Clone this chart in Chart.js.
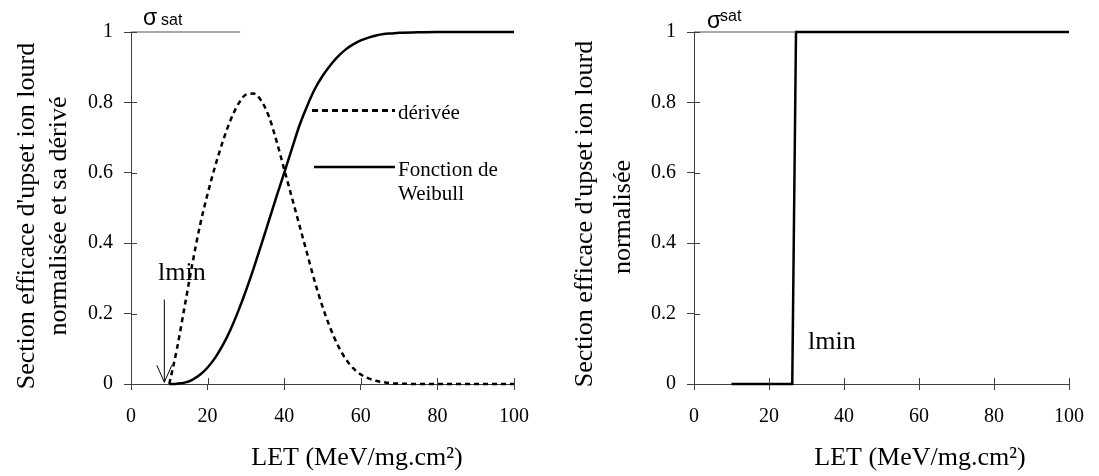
<!DOCTYPE html>
<html>
<head>
<meta charset="utf-8">
<script src="https://cdn.jsdelivr.net/npm/chart.js@4.4.1/dist/chart.umd.min.js"></script>
<style>
  html, body { margin: 0; padding: 0; background: #fff; }
  #wrap  { position: relative; width: 1099px; height: 476px; }
  #left  { position: absolute; left: 0;     top: 0; }
  #right { position: absolute; left: 550px; top: 0; }
</style>
</head>
<body>
<div id="wrap">
  <canvas id="left"  width="550" height="476"></canvas>
  <canvas id="right" width="549" height="476"></canvas>
</div>
<script>
// ── Data ──────────────────────────────────────────────────────────
const letValues   = [10, 12, 14, 16, 18, 20, 22, 24, 26, 28, 30, 32, 34, 36, 38, 40,
                     42, 44, 46, 48, 50, 52, 54, 56, 58, 60, 62, 64, 66, 68, 70, 75, 80, 100];
const weibull     = [0, 0.001, 0.004, 0.012, 0.026, 0.047, 0.075, 0.111, 0.155, 0.207, 0.265,
                     0.328, 0.395, 0.464, 0.533, 0.600, 0.668, 0.735, 0.790, 0.838, 0.875,
                     0.905, 0.930, 0.950, 0.965, 0.976, 0.984, 0.990, 0.994, 0.996, 0.998,
                     0.999, 1, 1];
const derivee     = [0, 0.10, 0.22, 0.34, 0.45, 0.54, 0.62, 0.69, 0.75, 0.795, 0.822,
                     0.825, 0.805, 0.76, 0.69, 0.61, 0.53, 0.45, 0.37, 0.29, 0.22,
                     0.16, 0.11, 0.072, 0.045, 0.027, 0.016, 0.009, 0.005, 0.002, 0.001,
                     0, 0, 0];

const stepLet     = [10, 26.2, 27.2, 100];
const stepSigma   = [0, 0, 1, 1];

const satLetLeft  = [0, 28.5];
const satLetRight = [0, 27.2];
const satSigma    = [1, 1];

const lminArrowLet = 8.7;

const xTicks = [0, 20, 40, 60, 80, 100];
const yTicks = [0, 0.2, 0.4, 0.6, 0.8, 1];
const yTickLabels = ["0", "0.2", "0.4", "0.6", "0.8", "1"];

const pts = (xs, ys) => xs.map((x, i) => ({ x, y: ys[i] }));

const SERIF = "'Liberation Serif', 'Times New Roman', serif";
const SANS  = "'Liberation Sans', Arial, sans-serif";
const AXIS  = "#404040";

// ── Annotation plugin (titles, inner ticks, labels, legend) ───────
function annotPlugin(cfg) {
  return {
    id: "annot",
    afterDraw(chart) {
      const ctx = chart.ctx;
      const xs = chart.scales.x, ys = chart.scales.y;
      const x0 = xs.getPixelForValue(0), y0 = ys.getPixelForValue(0);
      ctx.save();

      // inward half of the crossing tick marks
      ctx.strokeStyle = AXIS;
      ctx.lineWidth = 1;
      ctx.beginPath();
      xTicks.forEach(v => {
        const px = Math.round(xs.getPixelForValue(v)) + 0.5;
        ctx.moveTo(px, y0); ctx.lineTo(px, y0 - 6);
      });
      yTicks.forEach(v => {
        const py = Math.round(ys.getPixelForValue(v)) + 0.5;
        ctx.moveTo(x0, py); ctx.lineTo(x0 + 6, py);
      });
      ctx.stroke();

      ctx.fillStyle = "#000";

      // y title (rotated, two lines)
      ctx.font = `26px ${SERIF}`;
      ctx.textAlign = "center";
      ctx.textBaseline = "middle";
      cfg.yTitle.forEach(l => {
        ctx.save();
        ctx.translate(l.x, l.y);
        ctx.rotate(-Math.PI / 2);
        ctx.fillText(l.text, 0, 0);
        ctx.restore();
      });

      // x title
      ctx.textBaseline = "alphabetic";
      ctx.fillText("LET (MeV/mg.cm²)", cfg.xTitle.x, cfg.xTitle.y);

      // sigma sat
      ctx.textAlign = "left";
      ctx.font = `23px ${SANS}`;
      ctx.fillText("σ", cfg.sigma.x, cfg.sigma.y);
      ctx.font = `16px ${SANS}`;
      ctx.fillText("sat", cfg.sat.x, cfg.sat.y);

      // lmin
      ctx.font = `26px ${SERIF}`;
      ctx.fillText("lmin", cfg.lmin.x, cfg.lmin.y);

      // arrow pointing at lmin
      if (cfg.arrow) {
        const ax = xs.getPixelForValue(cfg.arrow.let);
        const top = ys.getPixelForValue(cfg.arrow.from);
        const tip = ys.getPixelForValue(cfg.arrow.to);
        ctx.strokeStyle = "#000";
        ctx.lineWidth = 1;
        ctx.beginPath();
        ctx.moveTo(ax, top); ctx.lineTo(ax, tip);
        ctx.moveTo(ax - 7.5, tip - 17); ctx.lineTo(ax, tip); ctx.lineTo(ax + 7.5, tip - 17);
        ctx.stroke();
      }

      // legend
      if (cfg.legend) {
        ctx.strokeStyle = "#000";
        ctx.font = `21px ${SERIF}`;
        cfg.legend.forEach(it => {
          ctx.lineWidth = it.width;
          ctx.setLineDash(it.dash);
          ctx.beginPath();
          ctx.moveTo(it.x1, it.y); ctx.lineTo(it.x2, it.y);
          ctx.stroke();
          ctx.setLineDash([]);
          it.lines.forEach((t, i) => ctx.fillText(t, it.tx, it.ty + i * 24));
        });
      }
      ctx.restore();
    }
  };
}

function makeOptions(axisLeft, padRight) {
  return {
    responsive: false,
    animation: false,
    layout: { padding: { left: 0, right: padRight, top: 32, bottom: 0 } },
    plugins: { legend: { display: false }, tooltip: { enabled: false } },
    elements: { point: { radius: 0 } },
    scales: {
      x: {
        type: "linear", min: 0, max: 100,
        afterBuildTicks: s => { s.ticks = xTicks.map(v => ({ value: v })); },
        afterFit: s => { s.height = 92; },
        ticks: { color: "#000", font: { family: SERIF, size: 20 }, padding: 15,
                 maxRotation: 0, callback: v => String(v) },
        grid: { drawOnChartArea: false, drawTicks: true, tickLength: 6, color: AXIS, lineWidth: 1 },
        border: { display: true, color: AXIS, width: 1 }
      },
      y: {
        type: "linear", min: 0, max: 1,
        afterBuildTicks: s => { s.ticks = yTicks.map(v => ({ value: v })); },
        afterFit: s => { s.width = axisLeft; },
        ticks: { color: "#000", font: { family: SERIF, size: 20 }, padding: 11,
                 callback: v => yTickLabels[yTicks.indexOf(v)] },
        grid: { drawOnChartArea: false, drawTicks: true, tickLength: 7, color: AXIS, lineWidth: 1 },
        border: { display: true, color: AXIS, width: 1 }
      }
    }
  };
}

// ── Left: Weibull fit and its derivative ──────────────────────────
new Chart(document.getElementById("left"), {
  type: "line",
  data: {
    datasets: [
      { data: pts(satLetLeft, satSigma), borderColor: "#555", borderWidth: 1, tension: 0, clip: false },
      { data: pts(letValues, derivee), borderColor: "#000", borderWidth: 2.5, borderDash: [5, 4],
        cubicInterpolationMode: "monotone", clip: false },
      { data: pts(letValues, weibull), borderColor: "#000", borderWidth: 2.5,
        cubicInterpolationMode: "monotone", clip: false }
    ]
  },
  options: makeOptions(131, 36),
  plugins: [annotPlugin({
    yTitle: [
      { text: "Section efficace d'upset ion lourd", x: 27, y: 216 },
      { text: "normalisée et sa dérivé", x: 59, y: 216 }
    ],
    xTitle: { x: 357, y: 465 },
    sigma: { x: 143, y: 25 },
    sat:   { x: 161, y: 25 },
    lmin:  { x: 158, y: 280 },
    arrow: { let: lminArrowLet, from: 0.24, to: 0.005 },
    legend: [
      { x1: 312, x2: 395, y: 110.5, width: 3, dash: [6, 4], tx: 398, ty: 119, lines: ["dérivée"] },
      { x1: 314, x2: 395, y: 167, width: 2.5, dash: [], tx: 398, ty: 176, lines: ["Fonction de", "Weibull"] }
    ]
  })]
});

// ── Right: ideal step response ────────────────────────────────────
new Chart(document.getElementById("right"), {
  type: "line",
  data: {
    datasets: [
      { data: pts(satLetRight, satSigma), borderColor: "#555", borderWidth: 1, tension: 0, clip: false },
      { data: pts(stepLet, stepSigma), borderColor: "#000", borderWidth: 2.5, tension: 0, clip: false }
    ]
  },
  options: makeOptions(144, 20),
  plugins: [annotPlugin({
    yTitle: [
      { text: "Section efficace d'upset ion lourd", x: 585, y: 214 },
      { text: "normalisée", x: 623, y: 217 }
    ].map(l => ({ ...l, x: l.x - 550 })),
    xTitle: { x: 920 - 550, y: 465 },
    sigma: { x: 707 - 550, y: 28 },
    sat:   { x: 720 - 550, y: 21 },
    lmin:  { x: 808 - 550, y: 349 }
  })]
});
</script>
</body>
</html>
